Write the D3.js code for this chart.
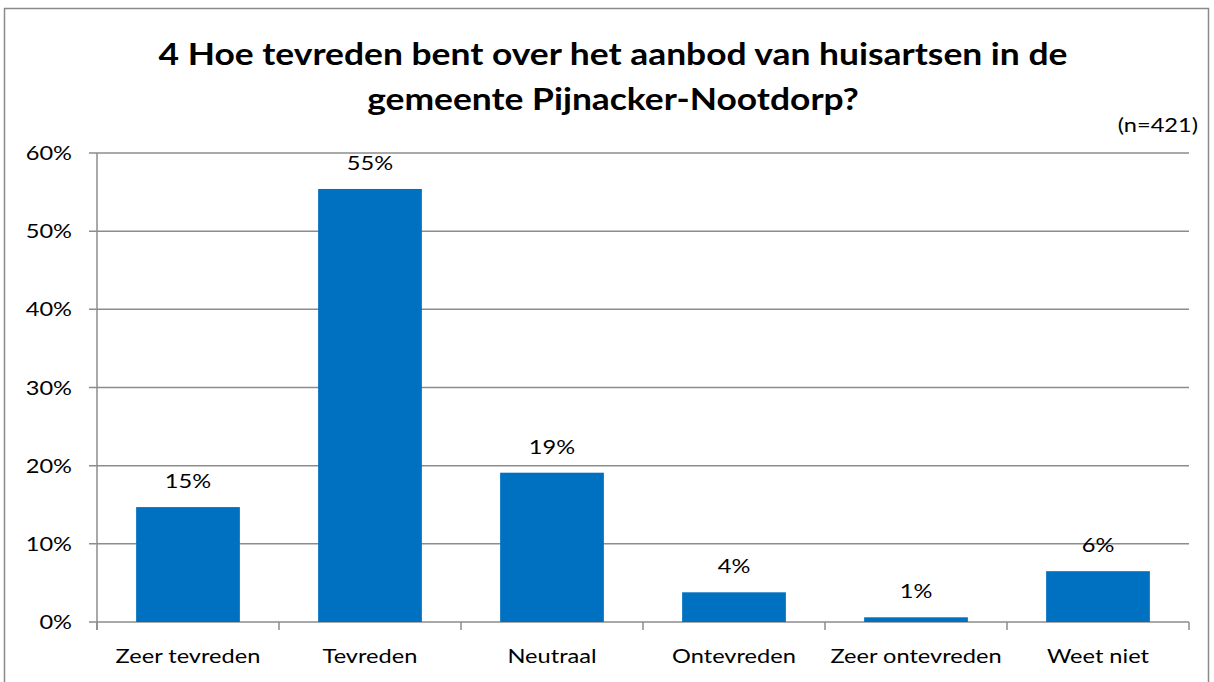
<!DOCTYPE html>
<html>
<head>
<meta charset="utf-8">
<script src="https://cdn.jsdelivr.net/npm/d3@7"></script>
<style>
  body { margin: 0; background: #fff; }
  text { font-family: Lato, "Open Sans", sans-serif; fill: #000; }
</style>
</head>
<body>
<div id="wrapper"></div>
<script>
// data
const categories = ["Zeer tevreden", "Tevreden", "Neutraal", "Ontevreden", "Zeer ontevreden", "Weet niet"]
const values = [14.7, 55.4, 19.1, 3.8, 0.6, 6.5]
const valueLabels = ["15%", "55%", "19%", "4%", "1%", "6%"]
const yTicks = [0, 10, 20, 30, 40, 50, 60]
const titleLines = ["4 Hoe tevreden bent over het aanbod van huisartsen in de", "gemeente Pijnacker-Nootdorp?"]
const note = "(n=421)"

// the original font is wider than Lato, so text is stretched a bit sideways
const stretch = 1.18

let dimensions = {
  width: 1214,
  height: 682,
  margin: { top: 153, right: 25, bottom: 60, left: 97 },
}
dimensions.boundedWidth = 1189 - dimensions.margin.left
dimensions.boundedHeight = 622 - dimensions.margin.top

const svg = d3.select("#wrapper")
  .append("svg")
    .attr("width", dimensions.width)
    .attr("height", dimensions.height)

const place = (x, y) => `translate(${x},${y}) scale(${stretch},1)`

// outer chart border
svg.append("rect")
  .attr("x", 4.5).attr("y", 8.5)
  .attr("width", 1204).attr("height", 700)
  .attr("fill", "none")
  .attr("stroke", "#8a8a8a")
  .attr("stroke-width", 1.5)

// title
svg.append("g").selectAll("text")
  .data(titleLines)
  .join("text")
    .attr("transform", (d, i) => place(613, 65 + i * 45))
    .attr("text-anchor", "middle")
    .style("font-size", "30px")
    .style("font-weight", "bold")
    .text(d => d)

svg.append("text")
  .attr("transform", place(1198, 132))
  .attr("text-anchor", "end")
  .style("font-size", "20px")
  .text(note)

const bounds = svg.append("g")
  .attr("transform", `translate(${dimensions.margin.left},${dimensions.margin.top})`)

const xScale = d3.scaleBand()
  .domain(categories)
  .range([0, dimensions.boundedWidth])
  .paddingInner(0.43)
  .paddingOuter(0.215)

const yScale = d3.scaleLinear()
  .domain([0, 60])
  .range([dimensions.boundedHeight, 0])

const gridColor = "#8c8c8c"

// gridlines
bounds.append("g").selectAll("line")
  .data(yTicks)
  .join("line")
    .attr("x1", -8)
    .attr("x2", dimensions.boundedWidth)
    .attr("y1", d => yScale(d))
    .attr("y2", d => yScale(d))
    .attr("stroke", gridColor)
    .attr("stroke-width", 1.5)

// bars
bounds.append("g").selectAll("rect")
  .data(values)
  .join("rect")
    .attr("x", (d, i) => xScale(categories[i]))
    .attr("width", xScale.bandwidth())
    .attr("y", d => yScale(d))
    .attr("height", d => dimensions.boundedHeight - yScale(d))
    .attr("fill", "#0070c0")

// value labels
bounds.append("g").selectAll("text")
  .data(values)
  .join("text")
    .attr("transform", (d, i) => place(xScale(categories[i]) + xScale.bandwidth() / 2, yScale(d) - 19))
    .attr("text-anchor", "middle")
    .style("font-size", "20px")
    .text((d, i) => valueLabels[i])

// y axis labels
bounds.append("g").selectAll("text")
  .data(yTicks)
  .join("text")
    .attr("transform", d => place(-25, yScale(d) + 7))
    .attr("text-anchor", "end")
    .style("font-size", "20px")
    .text(d => d + "%")

// y axis line
bounds.append("line")
  .attr("x1", 0).attr("x2", 0)
  .attr("y1", 0).attr("y2", dimensions.boundedHeight + 8)
  .attr("stroke", gridColor)
  .attr("stroke-width", 1.5)

// x axis ticks at category boundaries
const step = xScale.step()
bounds.append("g").selectAll("line")
  .data(d3.range(categories.length + 1))
  .join("line")
    .attr("x1", i => i * step)
    .attr("x2", i => i * step)
    .attr("y1", dimensions.boundedHeight)
    .attr("y2", dimensions.boundedHeight + 8)
    .attr("stroke", gridColor)
    .attr("stroke-width", 1.5)

// x axis labels
bounds.append("g").selectAll("text")
  .data(categories)
  .join("text")
    .attr("transform", d => place(xScale(d) + xScale.bandwidth() / 2, dimensions.boundedHeight + 41))
    .attr("text-anchor", "middle")
    .style("font-size", "20px")
    .text(d => d)
</script>
</body>
</html>
